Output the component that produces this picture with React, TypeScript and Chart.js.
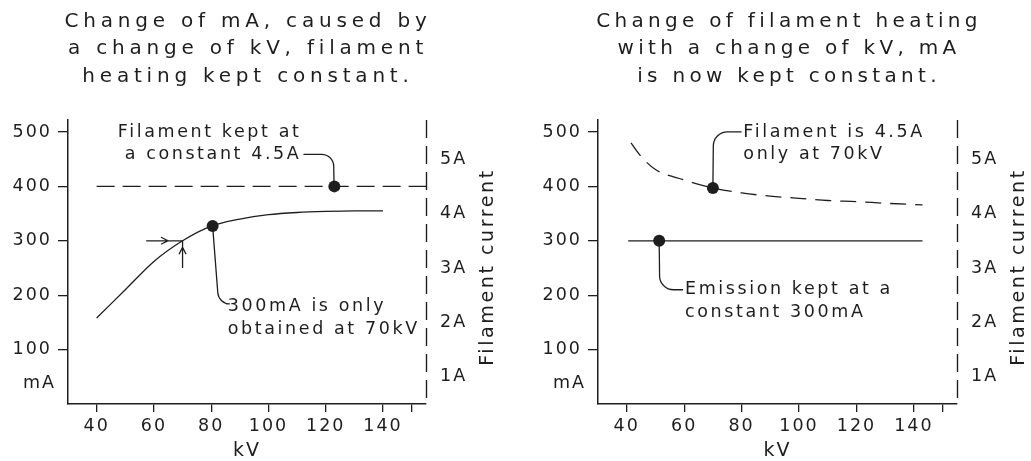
import React, { useEffect, useRef } from 'react';
import { Chart, registerables } from 'chart.js';

Chart.register(...registerables);

const FONT = '"DejaVu Sans", "Liberation Sans", sans-serif';
const INK = '#1e1e1e';

// ---- axes ----
const kvTicks = [40, 60, 80, 100, 120, 140, 150];
const maTicks = [100, 200, 300, 400, 500];
const ampTicks = [1, 2, 3, 4, 5];

// ---- titles ----
const leftTitle = ['Change of mA, caused by', 'a change of kV, filament', 'heating kept constant.'];
const rightTitle = ['Change of filament heating', 'with a change of kV, mA', 'is now kept constant.'];

// ---- left chart data ----
const leftCurveKV = [40, 50, 60, 70, 80, 90, 100, 110, 120, 130, 140];
const leftCurveMA = [158, 210, 262, 300, 327, 340, 348, 352, 354, 355, 355];
const leftFilamentKV = [40, 155];
const leftFilamentMA = [400, 400];
const leftDotsKV = [80.5, 123];
const leftDotsMA = [327, 400];

// ---- right chart data ----
const rightCurveKV = [41.5, 45, 50, 60, 70, 80, 90, 100, 110, 120, 130, 143];
const rightCurveMA = [480, 455, 431, 412, 397, 388, 382, 378, 374, 372, 369, 366];
const rightEmissionKV = [40.5, 143];
const rightEmissionMA = [300, 300];
const rightDotsKV = [70, 51.3];
const rightDotsMA = [397, 300];

const zip = (xs: number[], ys: number[]) => xs.map((x, i) => ({ x, y: ys[i] }));

type Note = { lines: string[]; kv: number; ma: number[]; align: CanvasTextAlign };
type Leader = { pts: number[][]; r: number };
type Arrow = { from: number[]; to: number[]; at: number };
type Spec = {
  title: string[];
  titleX: number;
  titleSpacing: string;
  notes: Note[];
  leaders: Leader[];
  arrows: Arrow[];
  leftW: number;
  rightW: number;
  datasets: any[];
};

const leftSpec: Spec = {
  title: leftTitle,
  titleX: 246,
  titleSpacing: '4.8px',
  leftW: 68,
  rightW: 89,
  notes: [
    { lines: ['Filament kept at', 'a constant 4.5A'], kv: 111.5, ma: [500, 459], align: 'right' },
    { lines: ['300mA is only', 'obtained at 70kV'], kv: 85.8, ma: [179, 137], align: 'left' },
  ],
  leaders: [
    { pts: [[112.2, 459], [122.7, 459], [122.9, 400]], r: 12 },
    { pts: [[80.5, 327], [82.6, 184], [85.2, 184]], r: 12 },
  ],
  arrows: [
    { from: [57.3, 300], to: [70, 300], at: 0.6 },
    { from: [70, 250], to: [70, 300], at: 0.76 },
  ],
  datasets: [
    { data: zip(leftCurveKV, leftCurveMA), showLine: true, pointRadius: 0, borderColor: INK, borderWidth: 1.3, cubicInterpolationMode: 'monotone' },
    { data: zip(leftFilamentKV, leftFilamentMA), showLine: true, pointRadius: 0, borderColor: INK, borderWidth: 1.3, borderDash: [18, 8] },
    { data: zip(leftDotsKV, leftDotsMA), showLine: false, pointRadius: 6, pointBackgroundColor: INK, pointBorderWidth: 0 },
  ],
};

const rightSpec: Spec = {
  title: rightTitle,
  titleX: 272,
  titleSpacing: '4.3px',
  leftW: 83,
  rightW: 74,
  notes: [
    { lines: ['Filament is 4.5A', 'only at 70kV'], kv: 80.6, ma: [500, 459], align: 'left' },
    { lines: ['Emission kept at a', 'constant 300mA'], kv: 60.3, ma: [210, 169], align: 'left' },
  ],
  leaders: [
    { pts: [[80, 500], [70.2, 500], [70, 397]], r: 14 },
    { pts: [[51.3, 300], [51.5, 210], [59.6, 210]], r: 14 },
  ],
  arrows: [],
  datasets: [
    { data: zip(rightCurveKV, rightCurveMA), showLine: true, pointRadius: 0, borderColor: INK, borderWidth: 1.3, borderDash: [16, 9], cubicInterpolationMode: 'monotone' },
    { data: zip(rightEmissionKV, rightEmissionMA), showLine: true, pointRadius: 0, borderColor: INK, borderWidth: 1.3 },
    { data: zip(rightDotsKV, rightDotsMA), showLine: false, pointRadius: 6, pointBackgroundColor: INK, pointBorderWidth: 0 },
  ],
};

const TICK_SPACING = '2px';
const NOTE_SPACING = '2.6px';

// Keep a letter spacing applied whenever the font is (re)set on the context.
function keepSpacing(ctx: any) {
  if (ctx.__lsPatched) return;
  const desc = Object.getOwnPropertyDescriptor(CanvasRenderingContext2D.prototype, 'font');
  ctx.__ls = TICK_SPACING;
  if (desc && desc.set && desc.get) {
    Object.defineProperty(ctx, 'font', {
      configurable: true,
      get() { return desc.get!.call(this); },
      set(v: string) { desc.set!.call(this, v); this.letterSpacing = this.__ls; },
    });
  }
  ctx.__lsPatched = true;
  ctx.letterSpacing = TICK_SPACING;
}

const spacingPlugin = {
  id: 'spacing',
  beforeInit(chart: any) { keepSpacing(chart.ctx); },
  beforeUpdate(chart: any) { keepSpacing(chart.ctx); chart.ctx.__ls = TICK_SPACING; chart.ctx.letterSpacing = TICK_SPACING; },
  beforeDraw(chart: any) { chart.ctx.__ls = TICK_SPACING; chart.ctx.letterSpacing = TICK_SPACING; },
};

function makeAnnotations(spec: Spec) {
  return {
    id: 'annotations',
    afterDatasetsDraw(chart: any) {
      const { ctx, chartArea, scales } = chart;
      const x = scales.x, y = scales.y;
      const px = (v: number) => x.getPixelForValue(v);
      const py = (v: number) => y.getPixelForValue(v);
      const setFont = (f: string, ls: string) => { ctx.__ls = ls; ctx.font = f; ctx.letterSpacing = ls; };
      ctx.save();
      ctx.strokeStyle = INK;
      ctx.fillStyle = INK;

      // dashed right-hand (filament current) axis line
      ctx.lineWidth = 1.4;
      ctx.setLineDash([18, 8]);
      const rx = Math.round(chartArea.right) + 0.5;
      ctx.beginPath();
      ctx.moveTo(rx, chartArea.top);
      ctx.lineTo(rx, chartArea.bottom);
      ctx.stroke();
      ctx.setLineDash([]);

      ctx.lineWidth = 1.3;
      // leaders
      for (const L of spec.leaders) {
        const p = L.pts.map(([a, b]) => [px(a), py(b)]);
        ctx.beginPath();
        ctx.moveTo(p[0][0], p[0][1]);
        for (let i = 1; i < p.length - 1; i++) ctx.arcTo(p[i][0], p[i][1], p[i + 1][0], p[i + 1][1], L.r);
        ctx.lineTo(p[p.length - 1][0], p[p.length - 1][1]);
        ctx.stroke();
      }
      // arrows
      for (const A of spec.arrows) {
        const x0 = px(A.from[0]), y0 = py(A.from[1]);
        const x1 = px(A.to[0]), y1 = py(A.to[1]);
        ctx.beginPath();
        ctx.moveTo(x0, y0);
        ctx.lineTo(x1, y1);
        const len = Math.hypot(x1 - x0, y1 - y0);
        const dx = (x1 - x0) / len, dy = (y1 - y0) / len;
        const tx = x0 + (x1 - x0) * A.at, ty = y0 + (y1 - y0) * A.at;
        const nx = -dy, ny = dx;
        ctx.moveTo(tx - dx * 7 + nx * 3.5, ty - dy * 7 + ny * 3.5);
        ctx.lineTo(tx, ty);
        ctx.lineTo(tx - dx * 7 - nx * 3.5, ty - dy * 7 - ny * 3.5);
        ctx.stroke();
      }
      // notes
      setFont(`17.5px ${FONT}`, NOTE_SPACING);
      ctx.textBaseline = 'middle';
      for (const N of spec.notes) {
        ctx.textAlign = N.align;
        N.lines.forEach((t, i) => ctx.fillText(t, px(N.kv), py(N.ma[i])));
      }
      // mA unit label
      setFont(`17.5px ${FONT}`, TICK_SPACING);
      ctx.textAlign = 'right';
      ctx.fillText('mA', chartArea.left - 12, py(38));
      // Filament current (right axis title, reading upward)
      ctx.save();
      setFont(`19px ${FONT}`, NOTE_SPACING);
      ctx.translate(chartArea.right + 62, (chartArea.top + chartArea.bottom) / 2 + 5);
      ctx.rotate(-Math.PI / 2);
      ctx.textAlign = 'center';
      ctx.fillText('Filament current', 0, 0);
      ctx.restore();
      // chart title
      setFont(`20px ${FONT}`, spec.titleSpacing);
      ctx.textAlign = 'center';
      const ys = [21.7, 49.2, 76.7];
      spec.title.forEach((t, i) => ctx.fillText(t, spec.titleX + 2, ys[i]));
      ctx.restore();
      ctx.__ls = TICK_SPACING;
      ctx.letterSpacing = TICK_SPACING;
    },
  };
}

function buildConfig(spec: Spec): any {
  const tickFont = { family: FONT, size: 17.5 };
  return {
    type: 'scatter',
    data: { datasets: spec.datasets },
    options: {
      animation: false,
      responsive: false,
      events: [],
      layout: { padding: { top: 120, left: 0, right: 0, bottom: 0 } },
      plugins: { legend: { display: false }, tooltip: { enabled: false }, title: { display: false } },
      scales: {
        x: {
          type: 'linear',
          min: 30,
          max: 155,
          afterBuildTicks: (s: any) => { s.ticks = kvTicks.map((v) => ({ value: v })); },
          afterFit: (s: any) => { s.height = 57; },
          ticks: { autoSkip: false, maxRotation: 0, color: INK, font: tickFont, padding: 4, callback: (v: number) => (v === 150 ? '' : String(v)) },
          grid: { drawOnChartArea: false, tickLength: 8, color: INK, lineWidth: 1.3 },
          border: { color: INK, width: 1.5 },
          title: { display: true, text: 'kV', color: INK, font: { family: FONT, size: 19, lineHeight: 1 }, padding: { top: 0, bottom: 0 } },
        },
        y: {
          type: 'linear',
          position: 'left',
          min: 0,
          max: 522,
          afterBuildTicks: (s: any) => { s.ticks = maTicks.map((v) => ({ value: v })); },
          afterFit: (s: any) => { s.width = spec.leftW; },
          ticks: { autoSkip: false, color: INK, font: tickFont, padding: 6, callback: (v: number) => String(v) },
          grid: { drawOnChartArea: false, tickLength: 10, color: INK, lineWidth: 1.3 },
          border: { color: INK, width: 1.5 },
        },
        y2: {
          type: 'linear',
          position: 'right',
          min: 0.5,
          max: 5.72,
          afterBuildTicks: (s: any) => { s.ticks = ampTicks.map((v) => ({ value: v })); },
          afterFit: (s: any) => { s.width = spec.rightW; },
          ticks: { autoSkip: false, color: INK, font: tickFont, padding: 14, callback: (v: number) => `${v}A` },
          grid: { drawOnChartArea: false, drawTicks: false, color: INK },
          border: { display: false },
        },
      },
    },
    plugins: [spacingPlugin, makeAnnotations(spec)],
  };
}

function Panel({ spec, left, width }: { spec: Spec; left: number; width: number }) {
  const ref = useRef<HTMLCanvasElement | null>(null);
  useEffect(() => {
    if (!ref.current) return;
    const chart = new Chart(ref.current, buildConfig(spec));
    return () => chart.destroy();
  }, [spec]);
  return (
    <canvas
      ref={ref}
      width={width}
      height={461}
      style={{ position: 'absolute', left, top: 0, width, height: 461 }}
    />
  );
}

export default function App() {
  return (
    <div style={{ position: 'fixed', left: 0, top: 0, width: 1031, height: 461, background: '#ffffff' }}>
      <Panel spec={leftSpec} left={0} width={515} />
      <Panel spec={rightSpec} left={515} width={516} />
    </div>
  );
}
